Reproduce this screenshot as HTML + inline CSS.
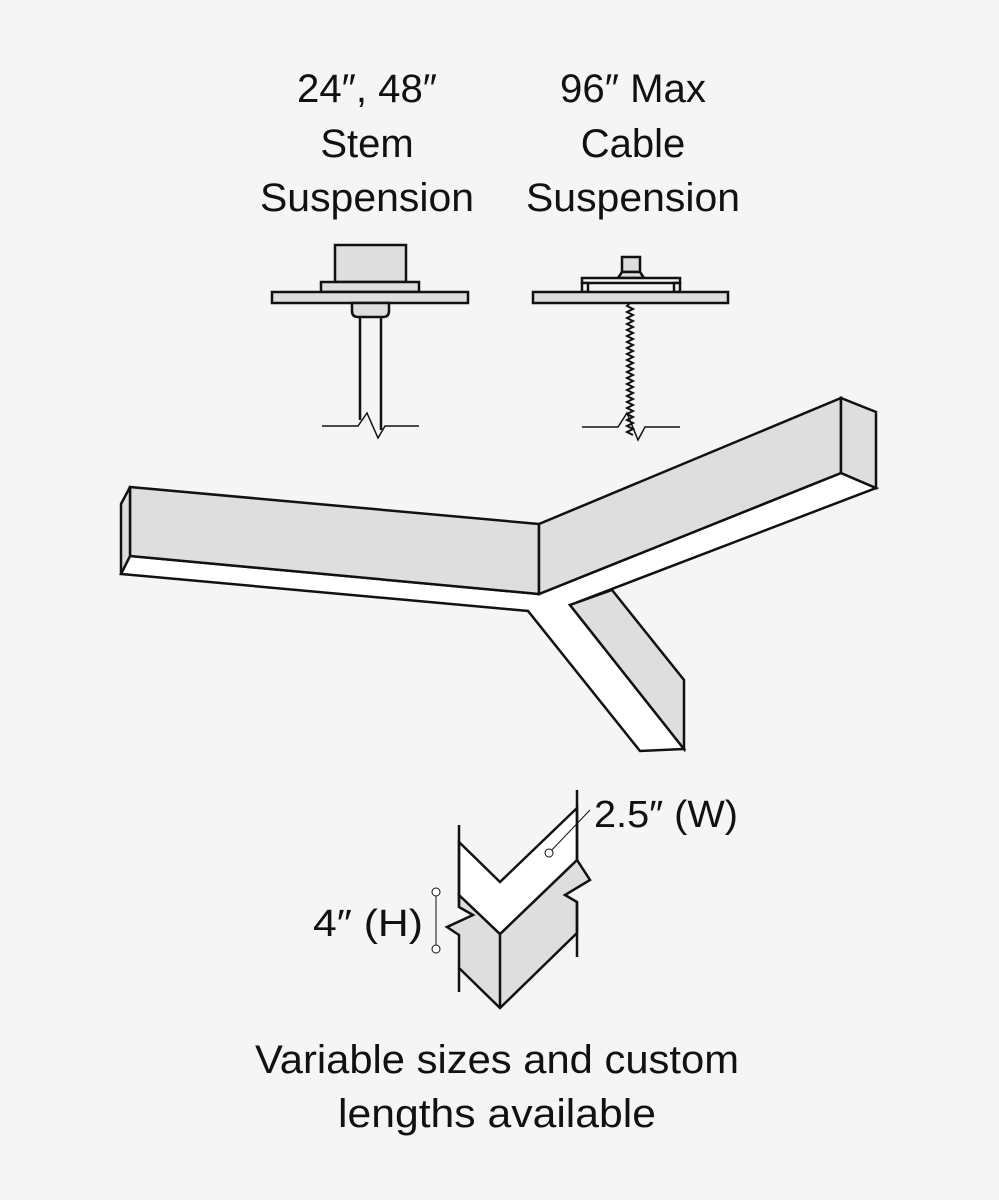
<!DOCTYPE html>
<html><head><meta charset="utf-8"><style>
html,body{margin:0;padding:0;background:#f5f5f5;}
svg{display:block}
text{font-family:"Liberation Sans",sans-serif;fill:#111;}
</style></head><body>
<svg width="999" height="1200" viewBox="0 0 999 1200" xmlns="http://www.w3.org/2000/svg">
<rect width="999" height="1200" fill="#f5f5f5"/>
<g font-size="40" text-anchor="middle">
<text x="367" y="102" textLength="140" lengthAdjust="spacingAndGlyphs">24″, 48″</text>
<text x="367" y="157">Stem</text>
<text x="367" y="211" textLength="214" lengthAdjust="spacingAndGlyphs">Suspension</text>
<text x="633" y="102" textLength="146" lengthAdjust="spacingAndGlyphs">96″ Max</text>
<text x="633" y="157">Cable</text>
<text x="633" y="211" textLength="214" lengthAdjust="spacingAndGlyphs">Suspension</text>
</g>
<g stroke="#111" stroke-width="2.5" fill="#dedede" stroke-linejoin="miter">
<!-- stem -->
<rect x="335" y="245" width="71" height="37"/>
<rect x="321" y="282" width="98" height="10"/>
<rect x="272" y="292" width="196" height="11"/>
<path d="M352 303 H389 V311 Q389 317 383 317 H358 Q352 317 352 311 Z"/>
<path d="M360 317 V420 M381 317 V430" fill="none"/>
<path d="M322 426 H358 L367 413 L378 438 L385 426 H419" fill="none" stroke-width="1.5"/>
<!-- cable -->
<rect x="622" y="257" width="18" height="15"/>
<path d="M618 278 L622 272 H640 L644 278 Z"/>
<rect x="582" y="278" width="98" height="5" fill="#f2f2f2"/>
<rect x="582" y="283" width="6" height="9" fill="#f2f2f2"/>
<rect x="674" y="283" width="6" height="9" fill="#f2f2f2"/>
<rect x="533" y="292" width="195" height="11"/>
<path d="M630 303 l-3 3 l6 3 l-6 3 l6 3 l-6 3 l6 3 l-6 3 l6 3 l-6 3 l6 3 l-6 3 l6 3 l-6 3 l6 3 l-6 3 l6 3 l-6 3 l6 3 l-6 3 l6 3 l-6 3 l6 3 l-6 3 l6 3 l-6 3 l6 3 l-6 3 l6 3 l-6 3 l6 3 l-6 3 l6 3 l-6 3 l6 3 l-6 3 l6 3 l-6 3 l6 3 l-6 3 l6 3 l-6 3 l6 3 l-6 3 L633 435" fill="none" stroke-width="2"/>
<path d="M582 427 H618 L627 413 L638 440 L645 427 H680" fill="none" stroke-width="1.5"/>
</g>
<!-- Y fixture -->
<g stroke="#111" stroke-width="2.5" stroke-linejoin="miter">
<path d="M121 574 L528 611 L640 751 L684 749 L570 605 L876 488 L841 473 L539 594 L130 556 Z" fill="#fff"/>
<path d="M130 487 L539 524 L539 594 L130 556 Z" fill="#dedede"/>
<path d="M121 504 L130 487 L130 556 L121 574 Z" fill="#dedede"/>
<path d="M539 524 L841 398 L841 473 L539 594 Z" fill="#dedede"/>
<path d="M841 398 L876 412 L876 488 L841 473 Z" fill="#dedede"/>
<path d="M570 605 L612 590 L684 680 L684 749 Z" fill="#dedede"/>
</g>
<!-- detail -->
<g stroke="#111" stroke-width="2.5" fill="none">
<path d="M459 895 L500 934 L577 860 L590 880 L565 895 L577 902 L577 933 L500 1008 L459 968 L459 935 L447 927 L473 915 L459 907 Z" fill="#dedede"/>
<path d="M459 842 L500 882 L577 808 L577 860 L500 934 L459 895 Z" fill="#fff"/>
<path d="M459 825 V907 M459 968 V992 M577 790 V860 M577 902 V957 M500 934 V1008"/>
</g>
<g stroke="#111" stroke-width="1" fill="#fff">
<line x1="436" y1="895" x2="436" y2="948"/>
<circle cx="436" cy="892" r="4"/>
<circle cx="436" cy="949" r="4"/>
<line x1="549" y1="853" x2="590" y2="810"/>
<circle cx="549" cy="853" r="4"/>
</g>
<text x="594" y="827" font-size="38" textLength="144" lengthAdjust="spacingAndGlyphs">2.5″ (W)</text>
<text x="313" y="936" font-size="38" textLength="110" lengthAdjust="spacingAndGlyphs">4″  (H)</text>
<g font-size="40" text-anchor="middle">
<text x="497" y="1073" textLength="484" lengthAdjust="spacingAndGlyphs">Variable sizes and custom</text>
<text x="497" y="1127" textLength="318" lengthAdjust="spacingAndGlyphs">lengths available</text>
</g>
</svg>
</body></html>
